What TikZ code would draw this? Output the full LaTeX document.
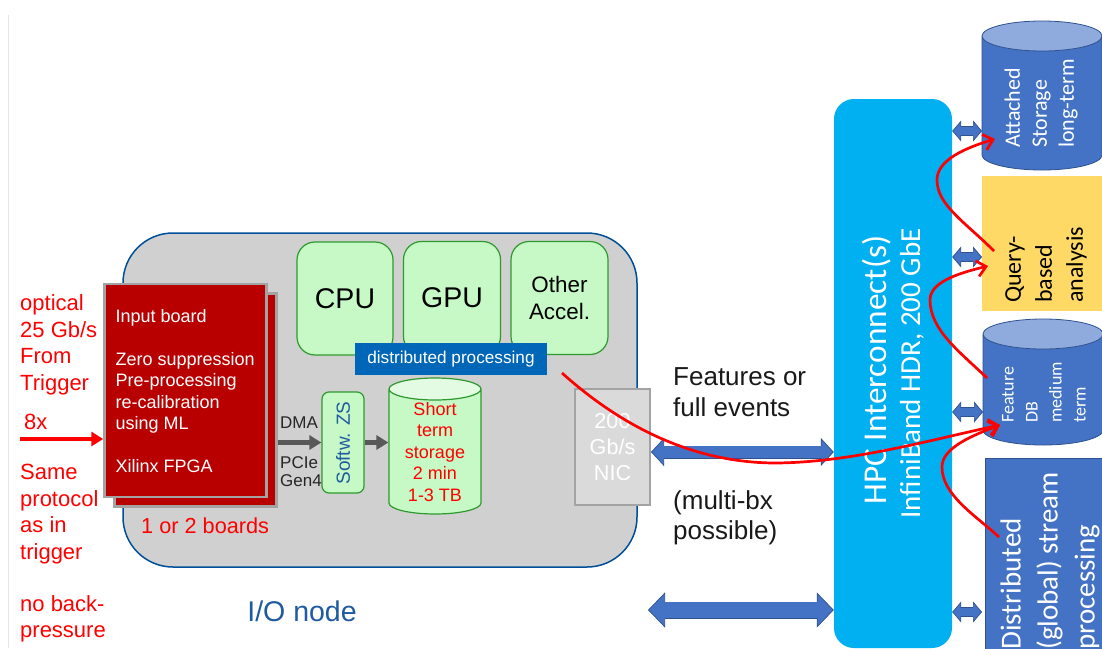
\documentclass[tikz,border=0pt]{standalone}
\usepackage{fontspec}
\setmainfont{Liberation Sans}
\newfontfamily\calibrifont{Carlito}
\usetikzlibrary{shapes.geometric,arrows.meta}
\definecolor{ioblue}{HTML}{004F9A}
\definecolor{iogray}{HTML}{D0D0D0}
\definecolor{boardred}{HTML}{B80000}
\definecolor{boardedge}{HTML}{A3A3A3}
\definecolor{procgreen}{HTML}{C6F9C6}
\definecolor{procedge}{HTML}{2E9A2E}
\definecolor{topgreen}{HTML}{E2FBE2}
\definecolor{distblue}{HTML}{0066B8}
\definecolor{textblue}{HTML}{1F5BA0}
\definecolor{nicgray}{HTML}{DADADA}
\definecolor{hpcblue}{HTML}{00B0F0}
\definecolor{storeblue}{HTML}{4472C4}
\definecolor{storetop}{HTML}{8FAADC}
\definecolor{storeedge}{HTML}{2F528F}
\definecolor{queryyellow}{HTML}{FFD966}
\definecolor{arrowgray}{HTML}{595959}
\tikzset{
  fs/.style 2 args={font=\fontsize{#1}{#2}\selectfont},
  cfs/.style 2 args={font=\calibrifont\fontsize{#1}{#2}\selectfont},
  procbox/.style={draw=procedge, fill=procgreen, line width=1.2pt, rounded corners=18pt, inner sep=0pt, align=center},
  boardbox/.style={draw=boardedge, fill=boardred, line width=2.5pt, inner sep=0pt, minimum width=162pt, minimum height=213pt},
  storecyl/.style={cylinder, shape border rotate=90, shape aspect=1, anchor=shape center, draw=storeedge, line width=0.8pt, cylinder uses custom fill, cylinder body fill=storeblue, cylinder end fill=storetop, inner sep=15pt, minimum width=120pt},
  rottext/.style={rotate=90, anchor=west, align=left, text=white, inner sep=0pt},
  redtext/.style={text=red, align=left, anchor=west, inner sep=0pt, fs={22}{26.5}},
  blacktext/.style={text=black!90, align=left, anchor=west, inner sep=0pt, fs={26}{30.5}},
  smalltext/.style={text=black!85, anchor=west, inner sep=0pt, align=left, fs={17}{17.5}},
  grayarrow/.style={draw=arrowgray, line width=4.5pt, -{Triangle[length=12pt,width=14pt]}},
  redcurve/.style={draw=red, line width=2.7pt, -{Straight Barb[length=9pt,width=16pt,line width=2.7pt]}},
  blockarrow/.style n args={3}{draw=storeedge, line width=#1,
    {Triangle[length=#2,width=#3,fill=storeblue,line width=0.7pt]}-{Triangle[length=#2,width=#3,fill=storeblue,line width=0.7pt]},
    postaction={draw=storeblue, line width=#1-1.4pt, arrows=-, shorten <=#2-1.5pt, shorten >=#2-1.5pt}},
}
\begin{document}
\begin{tikzpicture}[x=1pt,y=-1pt]
  \useasboundingbox (0,0) rectangle (1102,648);
  \clip (0,0) rectangle (1102,648);
  \fill[white] (0,0) rectangle (1102,648);
  \draw[black!10, line width=0.8pt] (8,15) -- (8,648);

  % I/O node
  \node[draw=ioblue, fill=iogray, line width=1.5pt, rounded corners=50pt, minimum width=514pt, minimum height=334pt, inner sep=0pt] (ionode) at (380,400) {};
  \node[textblue, fs={28.5}{30}, inner sep=0pt] (iolabel) at (302,611) {I/O node};

  % Input boards
  \node[boardbox] (backboard) at (195.5,400) {};
  \node[boardbox] (inboard) at (185.5,390.5) {};
  \node[text=white, align=left, anchor=west, inner sep=0pt, fs={18}{21.5}] (inboardtext) at (115.5,391) {Input board\\[21.5pt]Zero suppression\\Pre-processing\\re-calibration\\using ML\\[21.5pt]Xilinx FPGA};
  \node[text=red, fs={21.7}{26}, anchor=west, inner sep=0pt] (boards) at (141,526) {1 or 2 boards};

  % Left labels
  \node[redtext] (optical) at (20,345) {optical\\25 Gb/s\\From\\Trigger};
  \node[redtext] (eightx) at (24,422) {8x};
  \node[redtext] (protocol) at (20,514) {Same\\protocol\\as in\\trigger};
  \node[redtext] (nopressure) at (20,619) {no back-\\pressure};
  \coordinate (trigin) at (20,439);
  \draw[draw=red, line width=4pt, -{Triangle[length=12pt,width=14pt]}] (trigin) -- (trigin -| inboard.west);

  % Processors
  \node[procbox, minimum width=96pt, minimum height=113pt, fs={28.5}{30}] (cpu) at (345,298.5) {CPU};
  \node[procbox, minimum width=97pt, minimum height=113pt, fs={28.5}{30}] (gpu) at (452,298) {GPU};
  \node[procbox, minimum width=97pt, minimum height=113pt, fs={22.4}{27.5}] (accel) at (559.5,298) {Other\\Accel.};
  \node[fill=distblue, text=white, minimum width=192pt, minimum height=32pt, inner sep=0pt, fs={17.2}{18}] (distproc) at (451,359) {distributed processing};

  % DMA path
  \node[draw=procedge, fill=procgreen, line width=1.2pt, rounded corners=7pt, minimum width=42pt, minimum height=101pt, inner sep=0pt] (softw) at (343,442.5) {};
  \node[rotate=90, text=textblue, fs={19}{20}, inner sep=0pt] (softwtext) at (343,443) {Softw. ZS};
  \node[cylinder, shape border rotate=90, shape aspect=1, anchor=shape center, draw=procedge, line width=1.2pt, cylinder uses custom fill, cylinder body fill=procgreen, cylinder end fill=topgreen, minimum width=92pt, minimum height=136pt, inner sep=11pt] (shortstore) at (435,446) {};
  \node[text=red, align=center, inner sep=0pt, fs={18}{21.5}] (shorttext) at (435,452) {Short\\term\\storage\\2 min\\1-3 TB};
  \node[smalltext] (dma) at (280,423) {DMA};
  \node[smalltext] (pcie) at (280,471.5) {PCIe\\Gen4};
  \draw[grayarrow] (backboard.east |- softw.west) -- (softw.west);
  \draw[grayarrow] (softw.east) -- (softw.east -| shortstore.west);

  % NIC
  \node[draw=boardedge, fill=nicgray, line width=2.5pt, minimum width=75pt, minimum height=116pt, inner sep=0pt, text=white, align=center, fs={21.6}{26}] (nic) at (612.5,447) {200\\Gb/s\\NIC};

  % Middle labels
  \node[blacktext] (features) at (673,392) {Features or\\full events};
  \node[blacktext] (multibx) at (673,518) {(multi-bx\\possible)};

  % Interconnect
  \node[fill=hpcblue, rounded corners=20pt, minimum width=118pt, minimum height=549pt, inner sep=0pt] (hpc) at (893,373.5) {};
  \node[rotate=90, text=white, inner sep=0pt, cfs={33.3}{34}] (hpctitle) at (877,370) {HPC Interconnect(s)};
  \node[rotate=90, text=white, inner sep=0pt, cfs={29}{30}] (hpcspec) at (912,373.5) {InfiniBand HDR, 200 GbE};
  \coordinate (nicport) at (651,452);
  \coordinate (ioport) at (648,610);
  \draw[blockarrow={13pt}{13pt}{28pt}] (nicport) -- (nicport -| hpc.west);
  \draw[blockarrow={17pt}{17pt}{35pt}] (ioport) -- (ioport -| hpc.west);

  % Storage column
  \node[storecyl, minimum height=149pt] (attached) at (1042,95.5) {};
  \node[rottext, cfs={22}{27}] (attachedtext) at (1041,148) {Attached\\Storage\\long-term};
  \node[fill=queryyellow, minimum width=120pt, minimum height=135pt, inner sep=0pt] (query) at (1042,243.5) {};
  \node[rottext, text=black, cfs={24}{31}] (querytext) at (1046,303) {Query-\\based\\analysis};
  \node[storecyl, minimum height=126pt] (featuredb) at (1043,382) {};
  \node[rottext, cfs={18}{24}] (featuretext) at (1044,423) {Feature\\DB\\medium\\term};
  \node[draw=storeedge, fill=storeblue, line width=0.8pt, minimum width=120pt, minimum height=210pt, inner sep=0pt] (streambox) at (1045,563) {};
  \node[rottext, cfs={29}{37}] (streamtext) at (1050,650) {Distributed\\(global) stream\\processing};

  % Short links to the column
  \coordinate (attachedport) at (982,131);
  \coordinate (queryport) at (982,257);
  \coordinate (featureport) at (983,412);
  \coordinate (streamport) at (982,612);
  \draw[blockarrow={10pt}{9pt}{21pt}] (attachedport -| hpc.east) -- (attachedport);
  \draw[blockarrow={10pt}{9pt}{21pt}] (queryport -| hpc.east) -- (queryport);
  \draw[blockarrow={10pt}{9pt}{21pt}] (featureport -| hpc.east) -- (featureport);
  \draw[blockarrow={10pt}{9pt}{21pt}] (streamport -| hpc.east) -- (streamport);

  % Red flow curves
  \coordinate (distout) at (562,373);
  \coordinate (featuretip) at (1000,425);
  \coordinate (streamout) at (999,537);
  \coordinate (featureout) at (987,378);
  \coordinate (querytip) at (988,266);
  \coordinate (queryout) at (994,251);
  \coordinate (attachedtip) at (995,139);
  \draw[redcurve] (distout) .. controls (620,425) and (690,462) .. (773,463) .. controls (850,463) and (930,440) .. (featuretip);
  \draw[redcurve] (streamout) .. controls (975,515) and (942,495) .. (942,467) .. controls (942,450) and (965,438) .. (featuretip);
  \draw[redcurve] (featureout) .. controls (960,352) and (930,330) .. (930,300) .. controls (930,283) and (955,274) .. (querytip);
  \draw[redcurve] (queryout) .. controls (965,222) and (937,205) .. (937,180) .. controls (937,160) and (965,148) .. (attachedtip);
\end{tikzpicture}
\end{document}
